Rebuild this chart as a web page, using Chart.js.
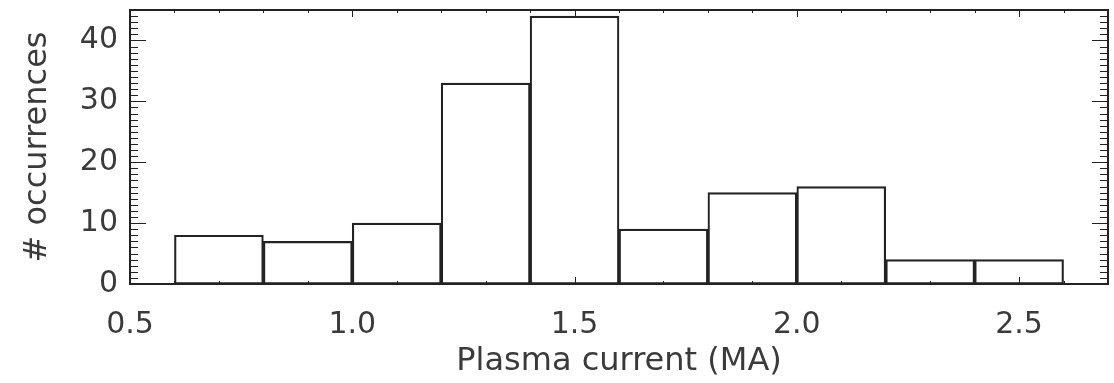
<!DOCTYPE html>
<html>
<head>
<meta charset="utf-8">
<script src="https://cdn.jsdelivr.net/npm/chart.js@4/dist/chart.umd.min.js"></script>
<style>
html,body{margin:0;padding:0;background:#fff;}
#wrap{width:1114px;height:383px;position:relative;}
</style>
</head>
<body>
<div id="wrap"><canvas id="c" width="1114" height="383"></canvas></div>
<script>
// Histogram bins (centers, MA) and counts
const binCenters = [0.7, 0.9, 1.1, 1.3, 1.5, 1.7, 1.9, 2.1, 2.3, 2.5];
const counts     = [8, 7, 10, 33, 44, 9, 15, 16, 4, 4];
const xTickValues = [0.5, 1.0, 1.5, 2.0, 2.5];
const xTickLabels = ['0.5', '1.0', '1.5', '2.0', '2.5'];
const yTickValues = [0, 10, 20, 30, 40];
const yTickLabels = ['0', '10', '20', '30', '40'];
const xTitle = 'Plasma current (MA)';
const yTitle = '# occurrences';

const textColor = '#3a3a3a';
const lineColor = '#222';

const frameTicks = {
  id: 'frameTicks',
  afterDatasetsDraw(chart) {
    const {ctx, chartArea: a, scales: {x, y}} = chart;
    ctx.save();
    ctx.strokeStyle = lineColor;
    ctx.lineWidth = 1;
    // y ticks (left & right), every 1 unit
    for (let v = Math.ceil(y.min); v <= y.max + 1e-9; v++) {
      const py = Math.round(y.getPixelForValue(v)) + 0.5;
      const len = (v % 10 === 0) ? 16 : 8;
      ctx.beginPath();
      ctx.moveTo(a.left, py); ctx.lineTo(a.left + len, py);
      ctx.moveTo(a.right, py); ctx.lineTo(a.right - len, py);
      ctx.stroke();
    }
    // x ticks (top & bottom), every 0.1
    const n = Math.round((x.max - x.min) / 0.1);
    for (let i = 0; i <= n; i++) {
      const v = x.min + i * 0.1;
      const px = Math.round(x.getPixelForValue(v)) + 0.5;
      const major = Math.abs(v * 2 - Math.round(v * 2)) < 1e-6;
      const len = major ? 7 : 3;
      ctx.beginPath();
      ctx.moveTo(px, a.top); ctx.lineTo(px, a.top + len);
      ctx.moveTo(px, a.bottom); ctx.lineTo(px, a.bottom - len);
      ctx.stroke();
    }
    // frame
    ctx.lineWidth = 2;
    ctx.strokeRect(a.left, a.top, a.right - a.left, a.bottom - a.top);
    ctx.restore();
  }
};

new Chart(document.getElementById('c'), {
  type: 'bar',
  data: {
    datasets: [{
      data: binCenters.map((c, i) => ({x: c, y: counts[i]})),
      backgroundColor: 'rgba(255,255,255,0)',
      borderColor: lineColor,
      borderWidth: 1.5,
      borderSkipped: false,
      barPercentage: 1,
      categoryPercentage: 1
    }]
  },
  options: {
    responsive: false,
    animation: false,
    events: [],
    layout: {padding: {top: 10, right: 6, left: 0, bottom: 0}},
    plugins: {legend: {display: false}, tooltip: {enabled: false}},
    scales: {
      x: {
        type: 'linear',
        min: 0.5, max: 2.7,
        offset: false,
        grid: {display: false, drawTicks: false, offset: false},
        border: {display: false},
        afterBuildTicks: s => { s.ticks = xTickValues.map(v => ({value: v})); },
        afterFit: s => { s.height = 99; s.paddingLeft = 0; s.paddingRight = 0; },
        ticks: {
          padding: 23,
          color: textColor,
          maxRotation: 0,
          autoSkip: false,
          font: {family: 'DejaVu Sans', size: 30},
          callback: (v) => { const i = xTickValues.findIndex(t => Math.abs(t - v) < 1e-9); return i >= 0 ? xTickLabels[i] : ''; }
        },
        title: {
          display: true, text: xTitle, color: textColor,
          font: {family: 'DejaVu Sans', size: 32},
          padding: {top: 0, bottom: 2}
        }
      },
      y: {
        type: 'linear',
        min: 0, max: 45,
        grid: {display: false, drawTicks: false},
        border: {display: false},
        afterBuildTicks: s => { s.ticks = yTickValues.map(v => ({value: v})); },
        afterFit: s => { s.width = 130; s.paddingTop = 0; s.paddingBottom = 0; },
        ticks: {
          padding: 12,
          color: textColor,
          autoSkip: false,
          font: {family: 'DejaVu Sans', size: 30},
          callback: (v) => { const i = yTickValues.indexOf(v); return i >= 0 ? yTickLabels[i] : ''; }
        },
        title: {
          display: true, text: yTitle, color: textColor,
          font: {family: 'DejaVu Sans', size: 32},
          padding: {top: 18, bottom: 0}
        }
      }
    }
  },
  plugins: [frameTicks]
});
</script>
</body>
</html>
